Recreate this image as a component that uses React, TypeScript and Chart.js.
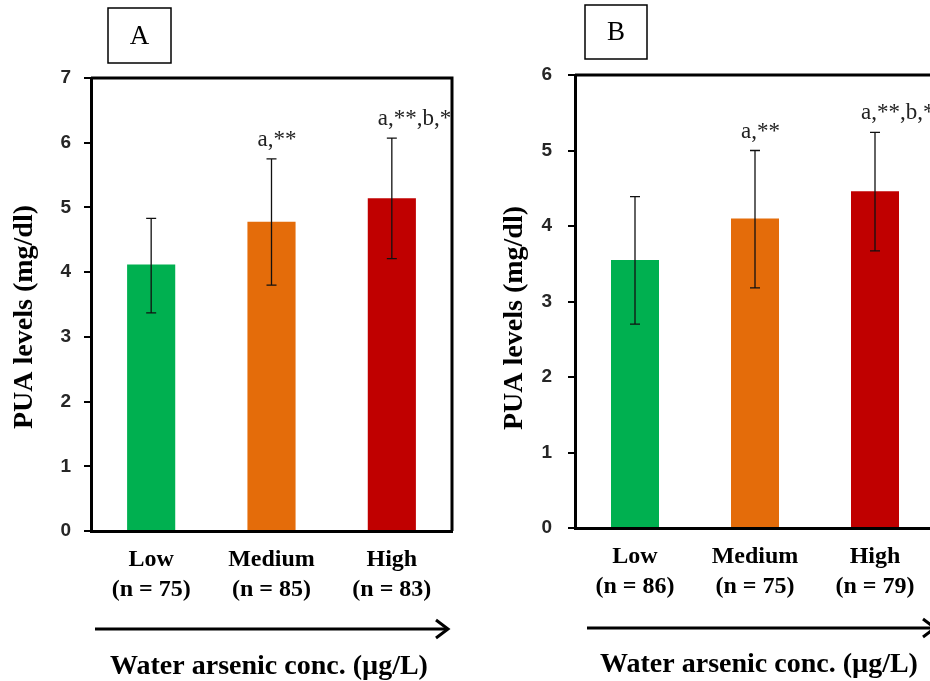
import React, { useEffect, useRef } from 'react';
import { Chart, registerables } from 'chart.js';

Chart.register(...registerables);

// ---- Data ----
const categories = ['Low', 'Medium', 'High'];
const sampleSizesA = ['(n = 75)', '(n = 85)', '(n = 83)'];
const sampleSizesB = ['(n = 86)', '(n = 75)', '(n = 79)'];
const meansA = [4.12, 4.78, 5.14];
const upperA = [4.83, 5.75, 6.07];
const lowerA = [3.37, 3.8, 4.21];
const meansB = [3.55, 4.1, 4.46];
const upperB = [4.39, 5.0, 5.24];
const lowerB = [2.7, 3.18, 3.67];
const annotationsA = ['', 'a,**', 'a,**,b,*'];
const annotationsB = ['', 'a,**', 'a,**,b,*'];
const yMaxA = 7;
const yMaxB = 6;
const panelLabelA = 'A';
const panelLabelB = 'B';
const yTitle = 'PUA levels (mg/dl)';
const xTitle = 'Water arsenic conc. (\u00b5g/L)';
const barColors = ['#00B050', '#E46C0A', '#C00000'];

type Layout = {
  left: number;
  width: number;
  padTop: number;
  padRight: number;
  yWidth: number;
  xHeight: number;
  tickPad: number;
  box: { x: number; y: number; w: number; h: number };
  yTitlePos: { x: number; y: number };
  arrow: { x0: number; x1: number; y: number };
  xTitleY: number;
  xTitleX: number;
};

type PanelProps = {
  label: string;
  sizes: string[];
  means: number[];
  upper: number[];
  lower: number[];
  annotations: string[];
  yMax: number;
  layout: Layout;
};

function Panel({ label, sizes, means, upper, lower, annotations, yMax, layout }: PanelProps) {
  const ref = useRef<HTMLCanvasElement | null>(null);

  useEffect(() => {
    const canvas = ref.current;
    if (!canvas) return;

    const extras = {
      id: 'extras',
      afterDatasetsDraw(chart: any) {
        const ctx = chart.ctx;
        const ys = chart.scales.y;
        const meta = chart.getDatasetMeta(0);
        ctx.save();
        // error bars
        ctx.strokeStyle = '#111';
        ctx.lineWidth = 1.3;
        meta.data.forEach((bar: any, i: number) => {
          const x = bar.x;
          const yt = ys.getPixelForValue(upper[i]);
          const yb = ys.getPixelForValue(lower[i]);
          ctx.beginPath();
          ctx.moveTo(x, yt);
          ctx.lineTo(x, yb);
          ctx.moveTo(x - 5, yt);
          ctx.lineTo(x + 5, yt);
          ctx.moveTo(x - 5, yb);
          ctx.lineTo(x + 5, yb);
          ctx.stroke();
        });
        // annotations
        ctx.fillStyle = '#222';
        ctx.font = 'normal 23px "Liberation Serif"';
        ctx.textAlign = 'left';
        ctx.textBaseline = 'middle';
        meta.data.forEach((bar: any, i: number) => {
          if (!annotations[i]) return;
          const yt = ys.getPixelForValue(upper[i]);
          ctx.fillText(annotations[i], bar.x - 14, yt - 19);
        });
        ctx.restore();
      },
      afterDraw(chart: any) {
        const ctx = chart.ctx;
        const a = chart.chartArea;
        ctx.save();
        // frame: top and right
        ctx.strokeStyle = '#000';
        ctx.lineWidth = 3;
        ctx.beginPath();
        ctx.moveTo(a.left, a.top);
        ctx.lineTo(a.right, a.top);
        ctx.lineTo(a.right, a.bottom);
        ctx.stroke();

        // panel label box
        const b = layout.box;
        ctx.lineWidth = 1.5;
        ctx.strokeRect(b.x, b.y, b.w, b.h);
        ctx.fillStyle = '#000';
        ctx.font = 'normal 27px "Liberation Serif"';
        ctx.textAlign = 'center';
        ctx.textBaseline = 'middle';
        ctx.fillText(label, b.x + b.w / 2, b.y + b.h / 2 + 1);

        // y title
        ctx.save();
        ctx.translate(layout.yTitlePos.x, layout.yTitlePos.y);
        ctx.rotate(-Math.PI / 2);
        ctx.font = 'bold 28px "Liberation Serif"';
        ctx.fillText(yTitle, 0, 0);
        ctx.restore();

        // arrow
        const ar = layout.arrow;
        ctx.strokeStyle = '#000';
        ctx.lineWidth = 3;
        ctx.beginPath();
        ctx.moveTo(ar.x0, ar.y);
        ctx.lineTo(ar.x1 - 2, ar.y);
        ctx.stroke();
        ctx.beginPath();
        ctx.moveTo(ar.x1 - 12, ar.y - 9);
        ctx.lineTo(ar.x1, ar.y);
        ctx.lineTo(ar.x1 - 12, ar.y + 9);
        ctx.stroke();

        // x title
        ctx.font = 'bold 28px "Liberation Serif"';
        ctx.textAlign = 'center';
        ctx.textBaseline = 'middle';
        ctx.fillText(xTitle, layout.xTitleX, layout.xTitleY);
        ctx.restore();
      },
    };

    const chart = new Chart(canvas, {
      type: 'bar',
      data: {
        labels: categories.map((c, i) => [c, sizes[i]]),
        datasets: [
          {
            data: means,
            backgroundColor: barColors,
            borderWidth: 0,
            barPercentage: 0.4,
            categoryPercentage: 1,
          },
        ],
      },
      options: {
        responsive: false,
        animation: false,
        devicePixelRatio: 1,
        layout: { padding: { top: layout.padTop, right: layout.padRight, left: 0, bottom: 0 } },
        plugins: { legend: { display: false }, tooltip: { enabled: false } },
        scales: {
          x: {
            grid: { display: false, drawTicks: false },
            border: { display: true, color: '#000', width: 3 },
            ticks: {
              color: '#000',
              padding: 14,
              maxRotation: 0,
              autoSkip: false,
              font: { family: '"Liberation Serif"', size: 24, weight: 'bold', lineHeight: 1.25 },
            },
            afterFit: (s: any) => {
              s.height = layout.xHeight;
            },
          },
          y: {
            min: 0,
            max: yMax,
            grid: {
              display: true,
              drawOnChartArea: false,
              drawTicks: true,
              tickLength: 7,
              color: '#000',
              lineWidth: 2,
            },
            border: { display: true, color: '#000', width: 3 },
            ticks: {
              stepSize: 1,
              color: '#262626',
              padding: layout.tickPad,
              font: { family: '"Liberation Sans"', size: 19, weight: 'bold' },
            },
            afterFit: (s: any) => {
              s.width = layout.yWidth;
            },
          },
        },
      },
      plugins: [extras],
    } as any);

    return () => chart.destroy();
  }, []);

  return (
    <canvas
      ref={ref}
      width={layout.width}
      height={681}
      style={{ position: 'absolute', left: layout.left, top: 0, width: layout.width, height: 681, display: 'block' }}
    />
  );
}

const layoutA: Layout = {
  left: 0,
  width: 465,
  padTop: 78,
  padRight: 13,
  yWidth: 91,
  xHeight: 150,
  tickPad: 13,
  box: { x: 108, y: 8, w: 63, h: 55 },
  yTitlePos: { x: 25, y: 317 },
  arrow: { x0: 95, x1: 448, y: 629 },
  xTitleY: 667,
  xTitleX: 269,
};

const layoutB: Layout = {
  left: 465,
  width: 480,
  padTop: 75,
  padRight: 10,
  yWidth: 110,
  xHeight: 153,
  tickPad: 16,
  box: { x: 120, y: 5, w: 62, h: 54 },
  yTitlePos: { x: 50, y: 318 },
  arrow: { x0: 122, x1: 470, y: 628 },
  xTitleY: 665,
  xTitleX: 294,
};

export default function App() {
  return (
    <div
      style={{
        position: 'fixed',
        left: 0,
        top: 0,
        width: 930,
        height: 681,
        overflow: 'hidden',
        background: '#fff',
      }}
    >
      <Panel
        label={panelLabelA}
        sizes={sampleSizesA}
        means={meansA}
        upper={upperA}
        lower={lowerA}
        annotations={annotationsA}
        yMax={yMaxA}
        layout={layoutA}
      />
      <Panel
        label={panelLabelB}
        sizes={sampleSizesB}
        means={meansB}
        upper={upperB}
        lower={lowerB}
        annotations={annotationsB}
        yMax={yMaxB}
        layout={layoutB}
      />
    </div>
  );
}
